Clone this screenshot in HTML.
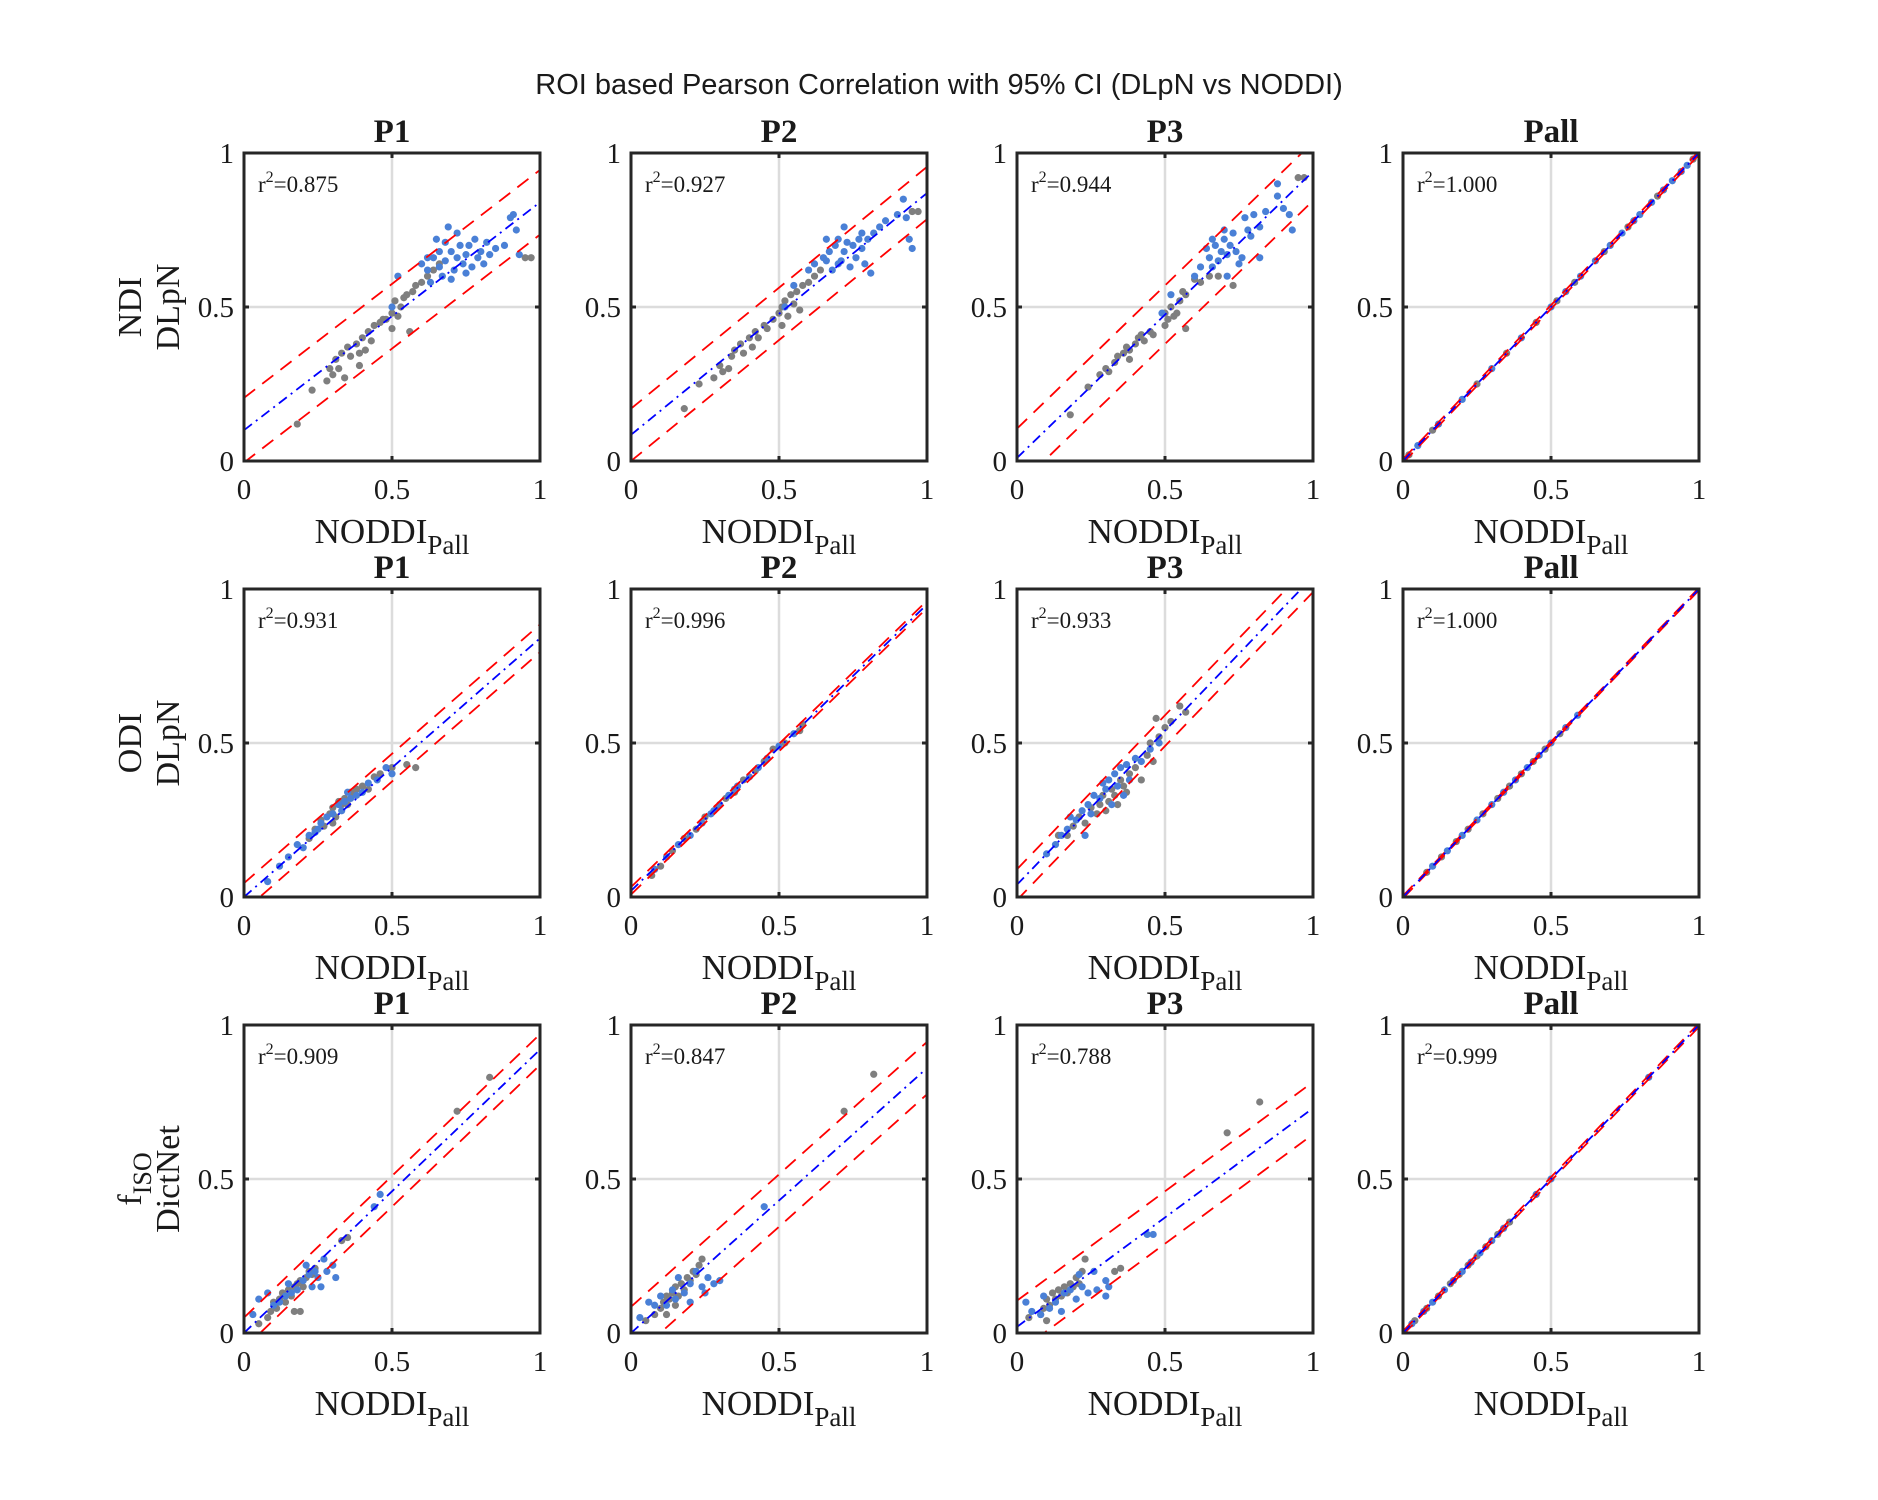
<!DOCTYPE html>
<html><head><meta charset="utf-8"><style>
html,body{margin:0;padding:0;background:#fff;}
svg{display:block;}
text{font-family:"Liberation Serif",serif;fill:#1a1a1a;}
</style></head><body>
<svg id="fig" width="1878" height="1500" viewBox="0 0 1878 1500">
<text x="939" y="94" text-anchor="middle" style="font-family:'Liberation Sans',sans-serif;font-size:29px">ROI based Pearson Correlation with 95% CI (DLpN vs NODDI)</text>
<g id="panels"></g>
</svg>
<script>
const colTitles = ["P1","P2","P3","Pall"];
const rowNames = [["NDI","DLpN"],["ODI","DLpN"],["fISO","DictNet"]];
const tickValues = [0,0.5,1];
const tickLabels = ["0","0.5","1"];
const r2Values = [["0.875","0.927","0.944","1.000"],["0.931","0.996","0.933","1.000"],["0.909","0.847","0.788","0.999"]];
const fitIntercepts = [[0.10,0.085,0.01,0],[0.0,0.02,0.04,0],[0.0,0.0,0.02,0]];
const fitSlopes = [[0.74,0.785,0.93,1],[0.84,0.93,1.0,1],[0.92,0.86,0.71,1]];
const ciOffsets = [[0.105,0.085,0.095,0.006],[0.045,0.012,0.05,0.004],[0.05,0.085,0.085,0.006]];
// scatter points [x,y]
const bluePts = [
 [[0.5,0.5],[0.52,0.6],[0.6,0.64],[0.62,0.62],[0.63,0.58],[0.64,0.66],[0.65,0.72],[0.66,0.68],[0.67,0.6],[0.68,0.65],[0.69,0.76],[0.7,0.68],[0.71,0.62],[0.72,0.66],[0.73,0.7],[0.74,0.64],[0.75,0.67],[0.76,0.7],[0.77,0.63],[0.78,0.72],[0.79,0.66],[0.8,0.68],[0.81,0.64],[0.82,0.71],[0.83,0.67],[0.85,0.69],[0.88,0.7],[0.9,0.79],[0.91,0.8],[0.92,0.75],[0.93,0.67],[0.72,0.74],[0.7,0.59],[0.75,0.61],[0.66,0.63],[0.62,0.66],[0.68,0.71]],
 [[0.52,0.5],[0.55,0.57],[0.6,0.62],[0.62,0.64],[0.65,0.66],[0.66,0.72],[0.67,0.68],[0.68,0.62],[0.69,0.7],[0.7,0.72],[0.71,0.65],[0.72,0.68],[0.73,0.71],[0.74,0.63],[0.75,0.7],[0.76,0.66],[0.77,0.72],[0.78,0.69],[0.79,0.64],[0.8,0.72],[0.82,0.74],[0.84,0.76],[0.86,0.78],[0.9,0.8],[0.92,0.85],[0.93,0.79],[0.94,0.72],[0.95,0.69],[0.72,0.76],[0.7,0.64],[0.81,0.61],[0.78,0.74],[0.66,0.65]],
 [[0.49,0.48],[0.52,0.54],[0.6,0.6],[0.62,0.63],[0.64,0.69],[0.65,0.66],[0.66,0.72],[0.67,0.7],[0.68,0.65],[0.69,0.68],[0.7,0.72],[0.71,0.67],[0.72,0.7],[0.73,0.74],[0.74,0.68],[0.75,0.64],[0.76,0.66],[0.77,0.79],[0.78,0.75],[0.79,0.73],[0.8,0.8],[0.82,0.76],[0.84,0.81],[0.88,0.86],[0.9,0.82],[0.92,0.8],[0.93,0.75],[0.88,0.9],[0.71,0.6],[0.82,0.66],[0.66,0.63],[0.7,0.75]],
 [[0.05,0.05],[0.12,0.12],[0.2,0.2],[0.3,0.3],[0.4,0.4],[0.5,0.5],[0.55,0.55],[0.6,0.6],[0.65,0.65],[0.7,0.7],[0.74,0.74],[0.78,0.78],[0.8,0.8],[0.84,0.84],[0.88,0.88],[0.91,0.91],[0.94,0.94],[0.96,0.96]],
 [[0.08,0.05],[0.12,0.1],[0.15,0.13],[0.18,0.17],[0.2,0.16],[0.22,0.2],[0.24,0.21],[0.26,0.24],[0.28,0.26],[0.3,0.27],[0.32,0.3],[0.34,0.31],[0.36,0.32],[0.38,0.33],[0.4,0.34],[0.42,0.37],[0.45,0.38],[0.48,0.42],[0.5,0.4],[0.25,0.22],[0.33,0.28],[0.35,0.34]],
 [[0.08,0.09],[0.12,0.13],[0.16,0.17],[0.2,0.2],[0.24,0.24],[0.27,0.27],[0.3,0.3],[0.33,0.33],[0.36,0.36],[0.4,0.39],[0.43,0.42],[0.46,0.45],[0.5,0.49],[0.55,0.53],[0.28,0.28],[0.35,0.35]],
 [[0.1,0.14],[0.13,0.17],[0.15,0.2],[0.17,0.22],[0.18,0.26],[0.2,0.25],[0.22,0.28],[0.24,0.3],[0.25,0.27],[0.26,0.33],[0.28,0.32],[0.3,0.35],[0.31,0.38],[0.32,0.3],[0.33,0.4],[0.34,0.36],[0.35,0.42],[0.36,0.33],[0.38,0.38],[0.4,0.45],[0.42,0.44],[0.45,0.48],[0.48,0.5],[0.23,0.2],[0.29,0.37],[0.37,0.43]],
 [[0.1,0.1],[0.15,0.15],[0.2,0.2],[0.25,0.25],[0.3,0.3],[0.34,0.34],[0.38,0.38],[0.42,0.42],[0.46,0.46],[0.5,0.5],[0.55,0.55],[0.59,0.59]],
 [[0.03,0.06],[0.05,0.11],[0.08,0.13],[0.1,0.09],[0.12,0.1],[0.14,0.12],[0.15,0.16],[0.16,0.13],[0.18,0.14],[0.2,0.17],[0.21,0.22],[0.22,0.19],[0.23,0.15],[0.24,0.2],[0.25,0.18],[0.26,0.15],[0.27,0.24],[0.28,0.2],[0.3,0.22],[0.31,0.18],[0.44,0.41],[0.46,0.45]],
 [[0.03,0.05],[0.06,0.1],[0.08,0.09],[0.1,0.12],[0.12,0.09],[0.14,0.14],[0.15,0.11],[0.16,0.18],[0.18,0.13],[0.2,0.16],[0.22,0.2],[0.24,0.15],[0.25,0.13],[0.26,0.18],[0.28,0.16],[0.3,0.17],[0.45,0.41],[0.2,0.1]],
 [[0.03,0.1],[0.05,0.07],[0.08,0.06],[0.09,0.12],[0.11,0.08],[0.13,0.1],[0.15,0.07],[0.16,0.13],[0.18,0.14],[0.2,0.11],[0.21,0.19],[0.22,0.15],[0.24,0.13],[0.26,0.2],[0.27,0.14],[0.3,0.17],[0.3,0.12],[0.31,0.15],[0.44,0.32],[0.46,0.32]],
 [[0.03,0.03],[0.07,0.07],[0.1,0.1],[0.14,0.14],[0.17,0.17],[0.2,0.2],[0.23,0.23],[0.26,0.26],[0.3,0.3],[0.34,0.34],[0.45,0.45],[0.5,0.5],[0.83,0.83]]
];
const grayPts = [
 [[0.18,0.12],[0.23,0.23],[0.28,0.26],[0.29,0.3],[0.3,0.28],[0.31,0.33],[0.32,0.3],[0.33,0.35],[0.34,0.27],[0.35,0.37],[0.36,0.34],[0.38,0.38],[0.39,0.35],[0.4,0.4],[0.41,0.36],[0.42,0.42],[0.43,0.39],[0.44,0.44],[0.46,0.45],[0.48,0.46],[0.5,0.48],[0.5,0.43],[0.51,0.52],[0.52,0.47],[0.53,0.5],[0.54,0.53],[0.55,0.54],[0.56,0.42],[0.57,0.55],[0.58,0.57],[0.6,0.58],[0.62,0.6],[0.64,0.62],[0.66,0.64],[0.95,0.66],[0.97,0.66],[0.39,0.31],[0.47,0.46]],
 [[0.18,0.17],[0.23,0.25],[0.28,0.27],[0.3,0.31],[0.31,0.29],[0.33,0.3],[0.34,0.34],[0.35,0.36],[0.37,0.38],[0.38,0.35],[0.4,0.4],[0.41,0.37],[0.42,0.42],[0.43,0.4],[0.45,0.44],[0.46,0.43],[0.48,0.46],[0.5,0.48],[0.51,0.5],[0.51,0.44],[0.52,0.52],[0.53,0.47],[0.54,0.54],[0.55,0.51],[0.56,0.55],[0.57,0.49],[0.58,0.57],[0.6,0.58],[0.62,0.6],[0.64,0.62],[0.95,0.81],[0.97,0.81]],
 [[0.18,0.15],[0.24,0.24],[0.28,0.28],[0.3,0.3],[0.31,0.29],[0.33,0.32],[0.34,0.34],[0.36,0.35],[0.37,0.37],[0.38,0.36],[0.4,0.38],[0.41,0.4],[0.42,0.41],[0.43,0.39],[0.45,0.42],[0.46,0.41],[0.5,0.48],[0.5,0.44],[0.51,0.46],[0.52,0.5],[0.53,0.47],[0.54,0.48],[0.55,0.52],[0.56,0.55],[0.57,0.54],[0.57,0.43],[0.6,0.59],[0.62,0.58],[0.65,0.6],[0.68,0.6],[0.73,0.57],[0.95,0.92],[0.97,0.92],[0.38,0.33]],
 [[0.02,0.02],[0.1,0.1],[0.25,0.25],[0.35,0.35],[0.45,0.45],[0.52,0.52],[0.58,0.58],[0.68,0.68],[0.76,0.76],[0.86,0.86],[0.98,0.98]],
 [[0.22,0.19],[0.24,0.22],[0.26,0.25],[0.27,0.23],[0.29,0.27],[0.3,0.29],[0.31,0.26],[0.32,0.31],[0.33,0.3],[0.34,0.32],[0.35,0.3],[0.36,0.34],[0.37,0.33],[0.38,0.35],[0.4,0.36],[0.42,0.35],[0.44,0.39],[0.46,0.4],[0.5,0.42],[0.55,0.43],[0.58,0.42],[0.3,0.24]],
 [[0.07,0.07],[0.1,0.1],[0.14,0.15],[0.18,0.19],[0.22,0.22],[0.25,0.26],[0.29,0.29],[0.32,0.32],[0.35,0.34],[0.38,0.38],[0.42,0.41],[0.45,0.44],[0.48,0.48],[0.52,0.5],[0.57,0.54],[0.58,0.56]],
 [[0.14,0.2],[0.17,0.2],[0.19,0.23],[0.21,0.26],[0.23,0.24],[0.25,0.29],[0.27,0.27],[0.28,0.3],[0.29,0.33],[0.3,0.28],[0.31,0.31],[0.32,0.35],[0.33,0.33],[0.34,0.3],[0.35,0.38],[0.36,0.36],[0.37,0.34],[0.38,0.4],[0.4,0.42],[0.42,0.38],[0.44,0.46],[0.46,0.44],[0.48,0.52],[0.5,0.55],[0.52,0.57],[0.55,0.62],[0.57,0.6],[0.45,0.5],[0.47,0.58]],
 [[0.08,0.08],[0.13,0.13],[0.18,0.18],[0.22,0.22],[0.27,0.27],[0.32,0.32],[0.36,0.36],[0.4,0.4],[0.44,0.44],[0.48,0.48],[0.53,0.53]],
 [[0.05,0.03],[0.08,0.05],[0.09,0.07],[0.1,0.1],[0.11,0.08],[0.12,0.11],[0.13,0.13],[0.14,0.1],[0.15,0.14],[0.16,0.12],[0.17,0.15],[0.18,0.16],[0.19,0.17],[0.2,0.15],[0.21,0.18],[0.22,0.2],[0.23,0.19],[0.24,0.21],[0.17,0.07],[0.19,0.07],[0.33,0.3],[0.35,0.31],[0.72,0.72],[0.83,0.83]],
 [[0.05,0.04],[0.08,0.06],[0.1,0.08],[0.11,0.1],[0.12,0.12],[0.13,0.11],[0.14,0.13],[0.15,0.15],[0.16,0.12],[0.17,0.16],[0.18,0.14],[0.19,0.18],[0.2,0.17],[0.21,0.2],[0.22,0.19],[0.23,0.22],[0.24,0.24],[0.12,0.06],[0.15,0.09],[0.72,0.72],[0.82,0.84]],
 [[0.04,0.05],[0.08,0.06],[0.09,0.08],[0.1,0.11],[0.11,0.09],[0.12,0.13],[0.13,0.11],[0.14,0.14],[0.15,0.12],[0.16,0.15],[0.17,0.13],[0.18,0.16],[0.19,0.15],[0.2,0.18],[0.21,0.16],[0.22,0.2],[0.23,0.24],[0.33,0.2],[0.35,0.21],[0.1,0.04],[0.71,0.65],[0.82,0.75]],
 [[0.04,0.04],[0.08,0.08],[0.12,0.12],[0.16,0.16],[0.19,0.19],[0.22,0.22],[0.25,0.25],[0.28,0.28],[0.32,0.32],[0.36,0.36]]
];
const NS="http://www.w3.org/2000/svg";
const colX=[244,631,1017,1403], rowY=[153,589,1025], W=296, H=308;
const root=document.getElementById('panels');
function mk(tag,attrs,parent){const e=document.createElementNS(NS,tag);for(const k in attrs)e.setAttribute(k,attrs[k]);parent.appendChild(e);return e;}
for(let r=0;r<3;r++){for(let c=0;c<4;c++){
 const x0=colX[c],y0=rowY[r];
 const sx=v=>x0+v*W, sy=v=>y0+H-v*H;
 const g=mk('g',{},root);
 
 
 const cp='clip'+r+c;
 const cl=mk('clipPath',{id:cp},g);mk('rect',{x:x0,y:y0,width:W,height:H},cl);
 const gl1=mk('line',{x1:sx(0.5),x2:sx(0.5),y1:y0,y2:y0+H,stroke:'#dcdcdc','stroke-width':2.5},g);
 
 
 const gl2=mk('line',{x1:x0,x2:x0+W,y1:sy(0.5),y2:sy(0.5),stroke:'#dcdcdc','stroke-width':2.5},g);
 
 
 const pg=mk('g',{'clip-path':'url(#'+cp+')'},g);
 const drawPts=(pts,col,nm)=>{for(const p of pts){const d=mk('circle',{cx:sx(p[0]),cy:sy(p[1]),r:3.6,fill:col},pg);
  
  }};
 drawPts(grayPts[r*4+c],'#7f7f7f','point-gray');
 drawPts(bluePts[r*4+c],'#4a80d6','point-blue');
 const a=fitIntercepts[r][c],b=fitSlopes[r][c],o=ciOffsets[r][c];
 const ln=(off,col,dash,nm)=>{const l=mk('line',{x1:sx(0),y1:sy(a+off),x2:sx(1),y2:sy(a+off+b),stroke:col,'stroke-width':1.8,'stroke-dasharray':dash},pg);
  
  };
 ln(o,'#ff0000','14 9','ci-upper');
 ln(-o,'#ff0000','14 9','ci-lower');
 ln(0,'#0000ff','10 5 2 5','fit-line');
 const bx=mk('rect',{x:x0,y:y0,width:W,height:H,fill:'none',stroke:'#262626','stroke-width':3},g);
 
 
 tickValues.forEach((t,i)=>{
  mk('line',{x1:sx(t),x2:sx(t),y1:y0+H,y2:y0+H-5,stroke:'#262626','stroke-width':3},g);
  mk('line',{x1:sx(t),x2:sx(t),y1:y0,y2:y0+5,stroke:'#262626','stroke-width':3},g);
  mk('line',{x1:x0,x2:x0+5,y1:sy(t),y2:sy(t),stroke:'#262626','stroke-width':3},g);
  mk('line',{x1:x0+W,x2:x0+W-5,y1:sy(t),y2:sy(t),stroke:'#262626','stroke-width':3},g);
  const tx=mk('text',{x:sx(t),y:y0+H+38,'text-anchor':'middle','font-size':29},g);tx.textContent=tickLabels[i];
  
  
  const ty=mk('text',{x:x0-10,y:sy(t)+10,'text-anchor':'end','font-size':29},g);ty.textContent=tickLabels[i];
  
  
 });
 const xl=mk('text',{x:x0+W/2,y:y0+H+82,'text-anchor':'middle','font-size':35},g);
 xl.innerHTML='NODDI<tspan dy="11" font-size="27">Pall</tspan>';
 
 
 const tt=mk('text',{x:x0+W/2,y:y0-11,'text-anchor':'middle','font-size':33,'font-weight':'bold'},g);tt.textContent=colTitles[c];
 
 
 const rt=mk('text',{x:x0+14,y:y0+39,'font-size':23},g);
 rt.innerHTML='r<tspan dy="-10" font-size="16">2</tspan><tspan dy="10">='+r2Values[r][c]+'</tspan>';
 
 
 if(c===0){
  const cy=y0+H/2;
  const y1=mk('text',{x:0,y:0,'text-anchor':'middle','font-size':34,transform:'translate(141,'+cy+') rotate(-90)'},g);
  if(rowNames[r][0]==='fISO') y1.innerHTML='f<tspan dy="10" font-size="26">ISO</tspan>'; else y1.textContent=rowNames[r][0];
  
  
  const y2=mk('text',{x:0,y:0,'text-anchor':'middle','font-size':34,transform:'translate(179,'+cy+') rotate(-90)'},g);
  y2.textContent=rowNames[r][1];
  
  
 }
}}
</script>
</body></html>
